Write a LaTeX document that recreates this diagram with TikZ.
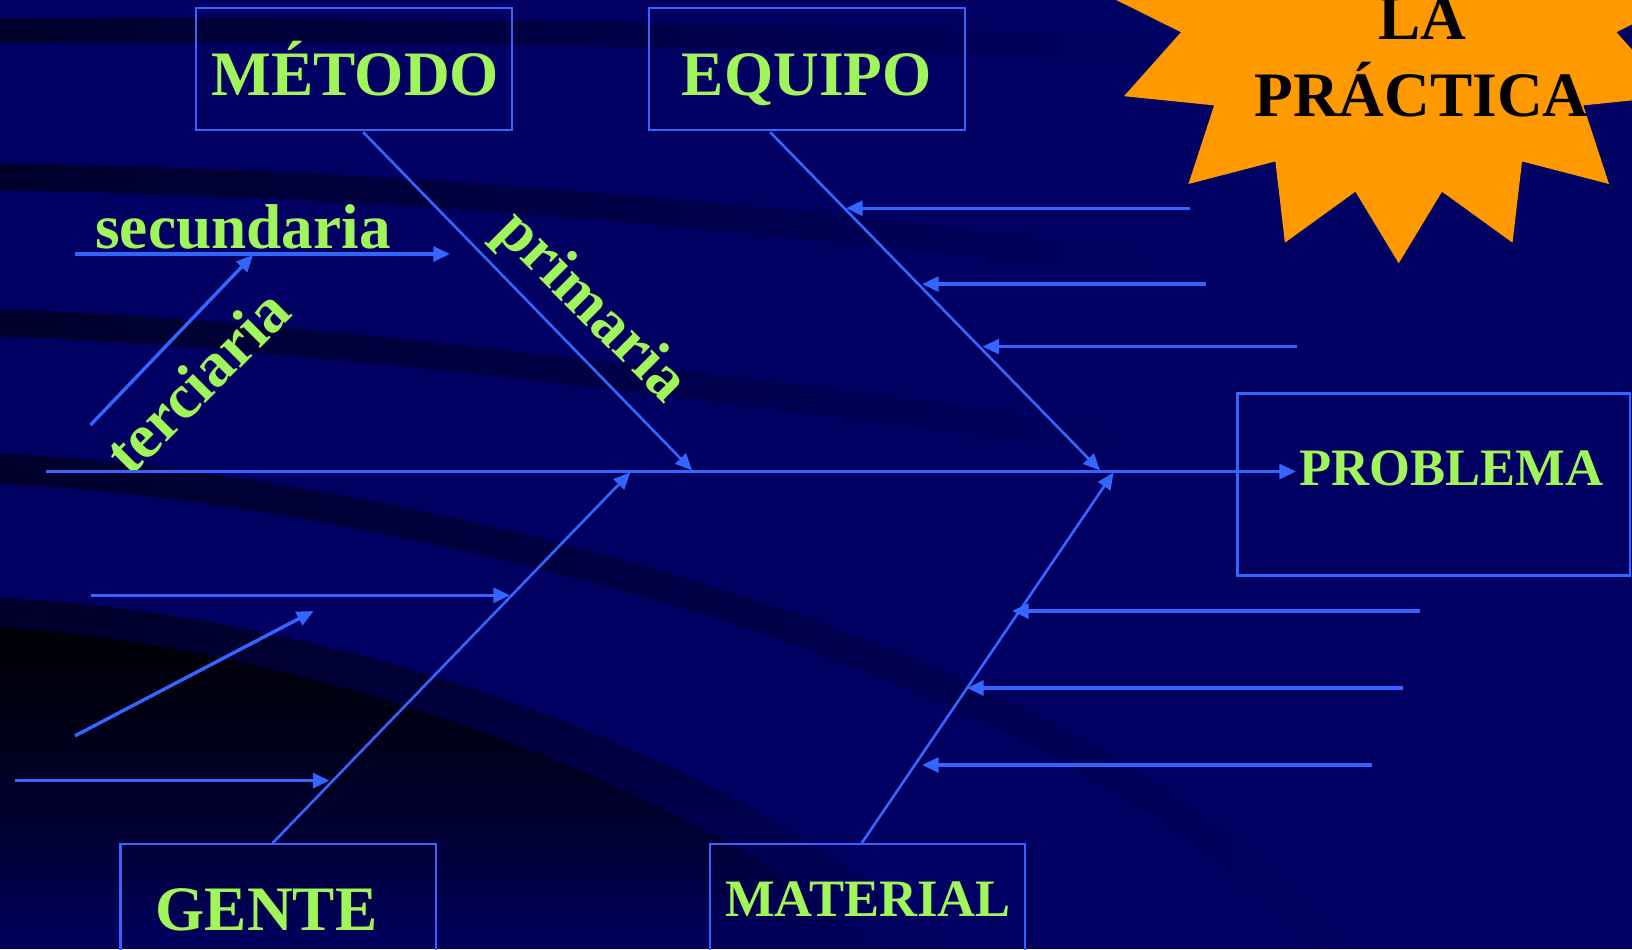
\documentclass[tikz,border=0pt]{standalone}
\usepackage{fontspec}
\setmainfont{Liberation Serif}
\usetikzlibrary{arrows.meta,fadings,calc}
\definecolor{bgnavy}{RGB}{0,0,98}
\definecolor{bgdark}{RGB}{0,0,42}
\definecolor{bgdeep}{RGB}{0,0,8}
\definecolor{lineblue}{RGB}{51,102,255}
\definecolor{txtgreen}{RGB}{160,245,90}
\definecolor{starorange}{RGB}{255,153,0}
\tikzfading[name=fadeR, left color=transparent!0, right color=transparent!100]
\tikzfading[name=fadeS, top color=transparent!0, bottom color=transparent!100]
\begin{document}
\begin{tikzpicture}[x=0.5pt,y=-0.5pt,
  box/.style={draw=lineblue, line width=1.3pt, inner sep=0pt},
  lbl/.style={text=txtgreen, font=\fontsize{31.65pt}{36pt}\selectfont\bfseries, inner sep=0pt, anchor=base},
  lblsm/.style={lbl, font=\fontsize{26.3pt}{30pt}\selectfont\bfseries},
  startxt/.style={lbl, text=black},
  arr/.style={draw=lineblue, line width=1.7pt, -{Triangle[length=8.3pt,width=7.4pt]}},
  primarr/.style={arr, line width=1.3pt},
  band/.style={draw=bgdark, line cap=butt, path fading=fadeR}
]
\path[use as bounding box] (0,0) rectangle (1632,949);
\clip (0,0) rectangle (1632,949);
% background
\fill[bgnavy] (0,0) rectangle (1632,949);
\draw[band, line width=12.5pt] (0,31) .. controls (400,28) and (800,36) .. (1150,48);
\draw[band, line width=13.5pt] (0,177) .. controls (400,182) and (800,220) .. (1150,265);
\draw[band, line width=13.5pt] (0,323) .. controls (300,332) and (750,392) .. (1120,440);
\draw[band, line width=15pt] (0,469) .. controls (300,480) and (1050,620) .. (1330,949);
\fill[bgdark, path fading=fadeS] (0,598) .. controls (350,615) and (750,760) .. (950,949) -- (0,949) -- cycle;
\fill[bgdeep, path fading=fadeS] (0,627) .. controls (330,650) and (700,790) .. (880,949) -- (0,949) -- cycle;
% star
\fill[starorange] ({1398.7+297.4*cos(270)},{-7.4-270.7*sin(270)})
  \foreach \k in {0,...,15}{
    -- ({1398.7+222*cos(281.25+22.5*\k)},{-7.4-203*sin(281.25+22.5*\k)})
    -- ({1398.7+297.4*cos(292.5+22.5*\k)},{-7.4-270.7*sin(292.5+22.5*\k)})
  } -- cycle;
\node[startxt] (la) at (1422,39.3) {LA};
\node[startxt] (practica) at (1421.5,116) {PRÁCTICA};
% boxes
\node[box, minimum width=158pt, minimum height=61pt] (mbox) at (354,69) {};
\node[box, minimum width=158pt, minimum height=61pt] (ebox) at (807,69) {};
\node[box, minimum width=196.25pt, minimum height=91.1pt] (pbox) at (1433.8,484.5) {};
\node[box, minimum width=157.65pt, minimum height=78pt] (gbox) at (278.4,922) {};
\node[box, minimum width=157.5pt, minimum height=78pt] (tbox) at (867.5,922) {};
% labels
\node[lbl] (metodo) at (355.5,95) {MÉTODO};
\node[lbl] (equipo) at (806.8,95) {EQUIPO};
\node[lblsm] (problema) at (1451,485) {PROBLEMA};
\node[lbl] (gente) at (266.5,930) {GENTE};
\node[lblsm] (material) at (868,916) {MATERIAL};
\node[lbl] (secundaria) at (243,248) {secundaria};
\node[lbl, anchor=center, rotate=-45] (primaria) at (590,308) {primaria};
\node[lbl, anchor=center, rotate=45] (terciaria) at (197,381) {terciaria};
% coordinates
\coordinate (tail) at (45.8,471.5);
\coordinate (head) at (1296,471.5);
\coordinate (mS) at (363.2,132.2); \coordinate (mT) at (692.1,470.4);
\coordinate (eS) at (770.2,132.2); \coordinate (eT) at (1100,470.4);
\coordinate (gS) at (272.7,843);   \coordinate (gT) at (630.2,472.5);
\coordinate (tS) at (861.8,843);   \coordinate (tT) at (1113.5,472.5);
\coordinate (s1a) at (75,254);     \coordinate (s1b) at (450,254);
\coordinate (s2a) at (90.5,425);   \coordinate (s2b) at (253,255);
\coordinate (e1a) at (1190,208.2); \coordinate (e1b) at (846,208.2);
\coordinate (e2a) at (1206.3,284.1); \coordinate (e2b) at (922,284.1);
\coordinate (e3a) at (1296.8,346.6); \coordinate (e3b) at (982.5,346.6);
\coordinate (t1a) at (1420,611);   \coordinate (t1b) at (1012,611);
\coordinate (t2a) at (1403,688);   \coordinate (t2b) at (967,688);
\coordinate (t3a) at (1372,765);   \coordinate (t3b) at (922,765);
\coordinate (g1a) at (90.5,595.3); \coordinate (g1b) at (510,595.3);
\coordinate (g2a) at (75,735.8);   \coordinate (g2b) at (313.5,611);
\coordinate (g3a) at (15,780.6);   \coordinate (g3b) at (329.5,780.6);
% connectors
\draw[arr] (tail) -- (head);
\draw[primarr] (mS) -- (mT);
\draw[primarr] (eS) -- (eT);
\draw[primarr] (gS) -- (gT);
\draw[primarr] (tS) -- (tT);
\draw[arr] (s1a) -- (s1b);
\draw[arr] (s2a) -- (s2b);
\draw[arr] (e1a) -- (e1b);
\draw[arr] (e2a) -- (e2b);
\draw[arr] (e3a) -- (e3b);
\draw[arr] (t1a) -- (t1b);
\draw[arr] (t2a) -- (t2b);
\draw[arr] (t3a) -- (t3b);
\draw[arr] (g1a) -- (g1b);
\draw[arr] (g2a) -- (g2b);
\draw[arr] (g3a) -- (g3b);
\end{tikzpicture}
\end{document}
